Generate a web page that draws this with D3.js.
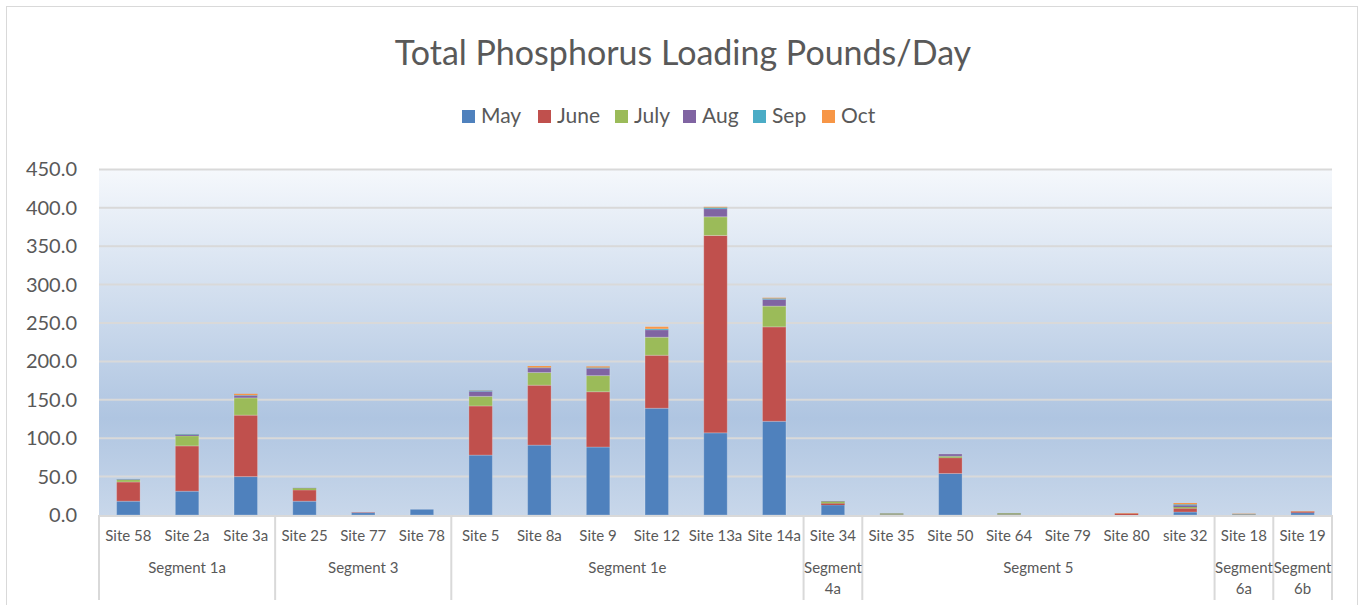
<!DOCTYPE html>
<html>
<head>
<meta charset="utf-8">
<script src="https://cdn.jsdelivr.net/npm/d3@7"></script>
<style>
  html, body { margin: 0; padding: 0; background: #fff; }
  svg { display: block; }
  text { font-family: Lato, "Open Sans", sans-serif; fill: #595959; }
</style>
</head>
<body>
<svg id="chart" width="1365" height="605"></svg>
<script>
// site names, in plot order
var sites = ['Site 58', 'Site 2a', 'Site 3a', 'Site 25', 'Site 77', 'Site 78',
  'Site 5', 'Site 8a', 'Site 9', 'Site 12', 'Site 13a', 'Site 14a', 'Site 34',
  'Site 35', 'Site 50', 'Site 64', 'Site 79', 'Site 80', 'site 32', 'Site 18', 'Site 19'];

// segment label and how many sites it spans
var segments = ['Segment 1a', 'Segment 3', 'Segment 1e', 'Segment 4a', 'Segment 5', 'Segment 6a', 'Segment 6b'];
var segmentSizes = [3, 3, 6, 1, 6, 1, 1];

var months = ['May', 'June', 'July', 'Aug', 'Sep', 'Oct'];

var may  = [18, 31, 50, 18, 3, 7.4, 78, 91, 88.5, 139, 107, 122, 13, 0.5, 54, 0.5, 0, 0, 3.9, 0.3, 3];
var june = [25, 59, 80, 14.5, 0.5, 0, 64, 78, 72, 69, 257, 123, 2.2, 0.3, 20.5, 0.3, 0, 2, 4.8, 0.3, 1.5];
var july = [3, 13, 22.5, 2.5, 0, 0, 12.5, 16.5, 21, 23.5, 24.3, 27, 2.5, 1.2, 2, 1.5, 0, 0, 1.7, 0.4, 0];
var aug  = [0.5, 1.5, 3, 0.3, 0, 0, 6.5, 6, 9.5, 9.5, 10.4, 8.7, 0.5, 0.3, 3, 0.3, 0, 0, 2.2, 0.2, 0];
var sep  = [0.3, 0.8, 0.5, 0, 0, 0, 1, 0.5, 1, 1.3, 1.7, 1.3, 0, 0, 0, 0, 0, 0, 1.3, 0.2, 0];
var oct  = [0, 0.2, 1.8, 0, 0, 0, 0.3, 2, 1.5, 3, 0.9, 0.9, 0, 0, 0, 0, 0, 0.5, 1.7, 0.4, 0.5];

var yTicks = [0, 50, 100, 150, 200, 250, 300, 350, 400, 450];

var colors = ['#4F81BD', '#C0504D', '#9BBB59', '#8064A2', '#4BACC6', '#F79646'];

var series = [may, june, july, aug, sep, oct];
var table = sites.map(function(s, i) {
  var row = { site: s };
  months.forEach(function(m, j) { row[m] = series[j][i]; });
  return row;
});

var svg = d3.select('#chart');
var margin = { left: 99, right: 1332, top: 169.4, bottom: 515 };

var defs = svg.append('defs');
var grad = defs.append('linearGradient')
  .attr('id', 'plotbg').attr('x1', 0).attr('y1', 0).attr('x2', 0).attr('y2', 1);
grad.append('stop').attr('offset', '0%').attr('stop-color', '#F5F8FC');
grad.append('stop').attr('offset', '72%').attr('stop-color', '#AFC5E1');
grad.append('stop').attr('offset', '100%').attr('stop-color', '#C8D7EA');

// chart border
svg.append('rect')
  .attr('x', 6.5).attr('y', 6.5).attr('width', 1351).attr('height', 640)
  .attr('fill', '#fff').attr('stroke', '#D9D9D9');

var x = d3.scaleBand()
  .domain(sites)
  .range([margin.left, margin.right])
  .paddingInner(0.6)
  .paddingOuter(0.3);

var y = d3.scaleLinear()
  .domain([0, 450])
  .range([margin.bottom, margin.top]);

svg.append('rect')
  .attr('x', margin.left).attr('y', margin.top)
  .attr('width', margin.right - margin.left)
  .attr('height', margin.bottom - margin.top)
  .attr('fill', 'url(#plotbg)');

// gridlines
svg.append('g')
  .selectAll('line')
  .data(yTicks.slice(1))
  .enter().append('line')
  .attr('x1', margin.left).attr('x2', margin.right)
  .attr('y1', function(d) { return y(d); })
  .attr('y2', function(d) { return y(d); })
  .attr('stroke', '#D9D9D9').attr('stroke-width', 2);

// y axis labels
var yAxis = d3.axisLeft(y)
  .tickValues(yTicks)
  .tickFormat(d3.format('.1f'))
  .tickSize(0)
  .tickPadding(22);
var yg = svg.append('g')
  .attr('transform', 'translate(' + margin.left + ',0)')
  .call(yAxis);
yg.select('.domain').remove();
yg.selectAll('text')
  .style('font-size', '20px')
  .style('font-family', 'Lato, sans-serif')
  .attr('fill', '#595959');

// stacked bars
var stack = d3.stack().keys(months);
var layers = stack(table);

svg.append('g')
  .selectAll('g')
  .data(layers)
  .enter().append('g')
  .attr('fill', function(d, i) { return colors[i]; })
  .selectAll('rect')
  .data(function(d) { return d; })
  .enter().append('rect')
  .attr('x', function(d) { return x(d.data.site); })
  .attr('width', x.bandwidth())
  .attr('y', function(d) { return y(d[1]); })
  .attr('height', function(d) { return Math.max(0, y(d[0]) - y(d[1])); })
  .attr('stroke', 'rgba(255,255,255,0.22)')
  .attr('stroke-width', function(d) { return (y(d[0]) - y(d[1])) > 2 ? 1 : 0; });

// category axis
var axisY = margin.bottom;
svg.append('line')
  .attr('x1', margin.left).attr('x2', margin.right)
  .attr('y1', axisY + 1).attr('y2', axisY + 1)
  .attr('stroke', '#D9D9D9').attr('stroke-width', 2);

var step = x.step();
var start = 0;
var bounds = [margin.left];
segmentSizes.forEach(function(n) {
  start += n;
  bounds.push(margin.left + step * start);
});

svg.append('g')
  .selectAll('line')
  .data(bounds)
  .enter().append('line')
  .attr('x1', function(d) { return d; }).attr('x2', function(d) { return d; })
  .attr('y1', axisY).attr('y2', 600)
  .attr('stroke', '#D9D9D9').attr('stroke-width', 2);

svg.append('g')
  .selectAll('text')
  .data(sites)
  .enter().append('text')
  .attr('x', function(d) { return x(d) + x.bandwidth() / 2; })
  .attr('y', 541)
  .attr('text-anchor', 'middle')
  .style('font-size', '15px')
  .text(function(d) { return d; });

var segG = svg.append('g');
segments.forEach(function(s, i) {
  var cx = (bounds[i] + bounds[i + 1]) / 2;
  var w = bounds[i + 1] - bounds[i];
  var t = segG.append('text')
    .attr('x', cx).attr('y', 573)
    .attr('text-anchor', 'middle')
    .style('font-size', '15px');
  if (w < 80) {
    var parts = s.split(' ');
    t.append('tspan').attr('x', cx).attr('dy', 0).text(parts[0]);
    t.append('tspan').attr('x', cx).attr('dy', 21).text(parts[1]);
  } else {
    t.text(s);
  }
});

// title
svg.append('text')
  .attr('x', 683).attr('y', 65)
  .attr('text-anchor', 'middle')
  .style('font-size', '34px')
  .text('Total Phosphorus Loading Pounds/Day');

// legend
var legendX = [462, 538, 615, 683, 753, 822];
var lg = svg.append('g')
  .selectAll('g')
  .data(months)
  .enter().append('g')
  .attr('transform', function(d, i) { return 'translate(' + legendX[i] + ',110)'; });
lg.append('rect')
  .attr('width', 13).attr('height', 13)
  .attr('fill', function(d, i) { return colors[i]; });
lg.append('text')
  .attr('x', 19).attr('y', 13)
  .style('font-size', '21px')
  .text(function(d) { return d; });
</script>
</body>
</html>
